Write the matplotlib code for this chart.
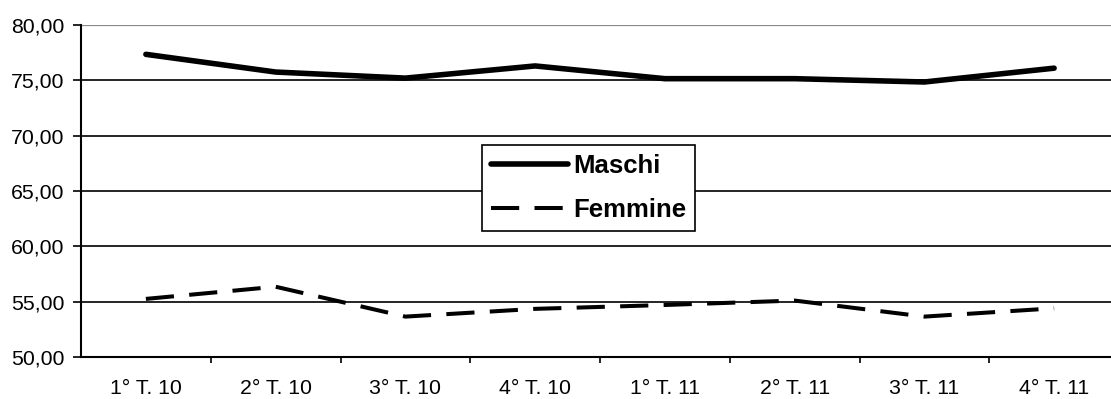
import matplotlib
matplotlib.use("Agg")
import matplotlib.pyplot as plt
from matplotlib.ticker import FuncFormatter

categories = ["1° T. 10", "2° T. 10", "3° T. 10", "4° T. 10",
              "1° T. 11", "2° T. 11", "3° T. 11", "4° T. 11"]
maschi = [77.35, 75.75, 75.2, 76.3, 75.15, 75.15, 74.85, 76.1]
femmine = [55.25, 56.35, 53.65, 54.35, 54.7, 55.1, 53.65, 54.4]

plt.rcParams['font.family'] = ['Liberation Sans', 'DejaVu Sans']

W, H = 1111, 399
fig = plt.figure(figsize=(W / 100, H / 100), dpi=100)
left_px, right_px, top_px, bot_px = 81, 1119, 25, 357
ax = fig.add_axes([left_px / W, 1 - bot_px / H,
                   (right_px - left_px) / W, (bot_px - top_px) / H])

x = list(range(len(categories)))
l1, = ax.plot(x, maschi, color='black', lw=4.0, solid_capstyle='round',
              solid_joinstyle='round', label='Maschi', zorder=3)
l2, = ax.plot(x, femmine, color='black', lw=2.9, dashes=(7.0, 3.8),
              label='Femmine', zorder=3)

ax.set_xlim(-0.5, len(categories) - 0.5)
ax.set_ylim(50, 80)
ax.set_yticks([50, 55, 60, 65, 70, 75, 80])
ax.yaxis.set_major_formatter(FuncFormatter(lambda v, p: f"{v:.2f}".replace('.', ',')))
ax.set_xticks(x)
ax.set_xticklabels(categories)
ax.set_xticks([i + 0.5 for i in x[:-1]], minor=True)

for v in [55, 60, 65, 70, 75]:
    ax.axhline(v, color='black', lw=1.2, zorder=1)
ax.axhline(80, color='#8a8a8a', lw=1.6, zorder=1)

for s in ['top', 'right']:
    ax.spines[s].set_visible(False)
ax.spines['left'].set_linewidth(1.5)
ax.spines['bottom'].set_linewidth(1.5)

ax.tick_params(axis='y', direction='out', length=6, width=1.2, pad=6, labelsize=15.3)
ax.tick_params(axis='x', which='major', length=0, pad=16, labelsize=15.3)
ax.tick_params(axis='x', which='minor', direction='out', length=4.5, width=1.2)

leg = ax.legend(handles=[l1, l2], loc='upper left',
                bbox_to_anchor=(482 / W, 1 - 145 / H), bbox_transform=fig.transFigure,
                frameon=True, fancybox=False, edgecolor='black', framealpha=1,
                prop={'weight': 'bold', 'size': 18.5}, handlelength=3.0,
                handletextpad=0.2, borderpad=0.34, labelspacing=0.8,
                borderaxespad=0)
leg.get_frame().set_linewidth(1.2)

fig.savefig("out.png", dpi=100)
